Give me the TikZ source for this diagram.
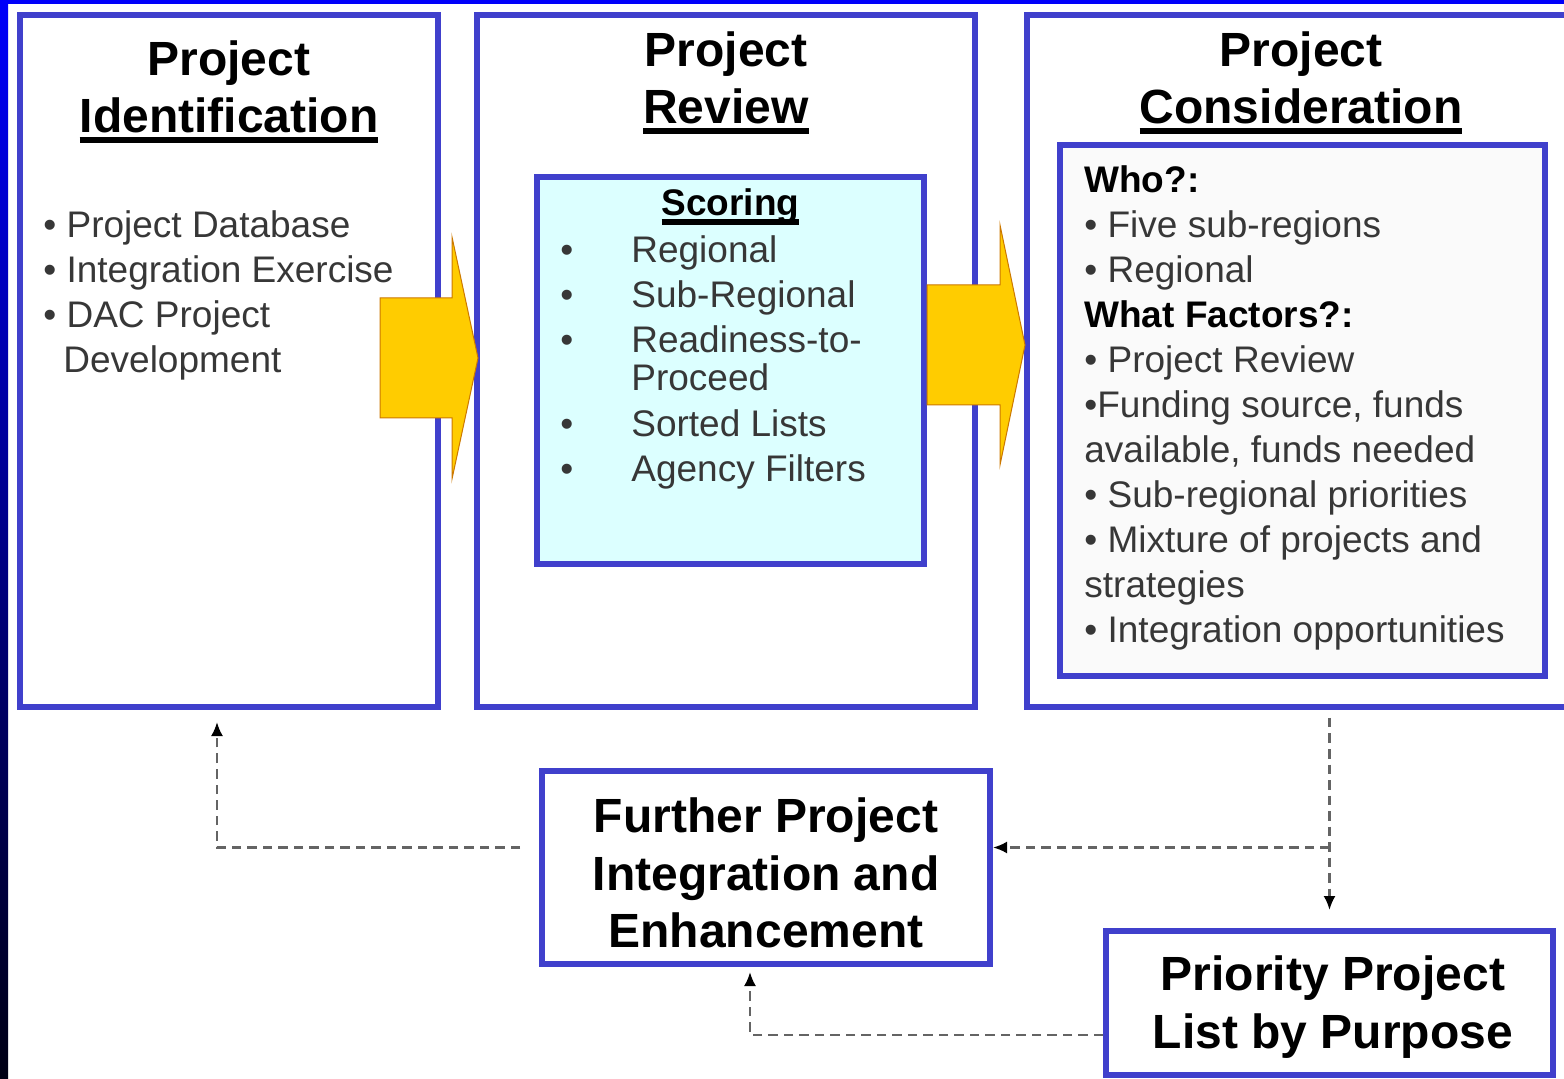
\documentclass[tikz,border=0pt]{standalone}
\usepackage{fontspec}
\setmainfont{Liberation Sans}
\usetikzlibrary{positioning, arrows.meta}

\definecolor{slideblue}{RGB}{0,0,250}
\definecolor{slidenavy}{RGB}{0,0,20}
\definecolor{stageblue}{RGB}{64,64,204}
\definecolor{scorecyan}{RGB}{220,255,255}
\definecolor{itemgray}{RGB}{55,55,55}
\definecolor{dashgray}{RGB}{100,100,100}
\definecolor{flowgold}{RGB}{255,204,0}
\definecolor{flowedge}{RGB}{204,120,0}

\newsavebox{\ulbox}
\newcommand{\headul}[1]{\sbox{\ulbox}{#1}\leavevmode\rlap{\raisebox{-5pt}{\rule{\wd\ulbox}{3pt}}}\usebox{\ulbox}}

\tikzstyle{stage} = [rectangle, draw=stageblue, line width=3pt, fill=white, inner sep=0pt]
\tikzstyle{heading} = [font=\fontsize{24}{28.75}\selectfont\bfseries, align=center, inner sep=0pt]
\tikzstyle{subhead} = [font=\fontsize{18.5}{22}\selectfont\bfseries, inner sep=0pt]
\tikzstyle{items} = [font=\fontsize{18.5}{22.5}\selectfont, text=itemgray, align=left, inner sep=0pt]
\tikzstyle{feedback} = [draw=dashgray, line width=1.2pt, dash pattern=on 4.75pt off 3pt, -{Latex[length=7pt, width=6pt, color=black]}]
\tikzstyle{flow} = [fill=flowgold, draw=flowedge, line width=0.5pt]

\begin{document}
\begin{tikzpicture}[x=0.5pt, y=-0.5pt]
        \useasboundingbox (0,0) rectangle (1564,1079);
        \fill[white] (0,0) rectangle (1564,1079);
        \fill[slideblue] (0,0) rectangle (1564,4);
        \shade[top color=slideblue, bottom color=slidenavy] (0,0) rectangle (8,1079);

        % the three stages
        \node[stage, minimum width=209pt, minimum height=346pt] (ident) at (229,361) {};
        \node[stage, minimum width=249pt, minimum height=346pt] (review) at (726,361) {};
        \node[stage, minimum width=274pt, minimum height=346pt] (consider) at (1301,361) {};

        \node[heading, below=14pt of ident.north] (identtitle) {Project\\\headul{Identification}};
        \node[heading, below=9.5pt of review.north] (reviewtitle) {Project\\\headul{Review}};
        \node[heading, below=9.5pt of consider.north] (considertitle) {Project\\\headul{Consideration}};

        \node[items, below right=99.25pt and 13pt of ident.north west] (identlist) {%
            \textbullet\ Project Database\\
            \textbullet\ Integration Exercise\\
            \textbullet\ DAC Project\\
            \hspace*{10pt}Development};

        \node[stage, fill=scorecyan, minimum width=193.5pt, minimum height=193.5pt] (scoring) at (730.5,370.5) {};
        \node[subhead, below=7pt of scoring.north] (scoringtitle) {\headul{Scoring}};
        \node[items, below right=30.75pt and 13pt of scoring.north west] (scoringlist) {%
            \makebox[35.5pt][l]{\textbullet}Regional\\
            \makebox[35.5pt][l]{\textbullet}Sub-Regional\\
            \makebox[35.5pt][l]{\textbullet}Readiness-to-\\[-3.5pt]
            \hspace*{35.5pt}Proceed\\[0.5pt]
            \makebox[35.5pt][l]{\textbullet}Sorted Lists\\
            \makebox[35.5pt][l]{\textbullet}Agency Filters};

        \node[stage, fill=black!2, minimum width=242.5pt, minimum height=265.5pt] (factors) at (1302.5,410.5) {};
        \node[items, below right=11.75pt and 13.5pt of factors.north west] (factorlist) {%
            \textcolor{black}{\bfseries Who?:}\\
            \textbullet\ Five sub-regions\\
            \textbullet\ Regional\\
            \textcolor{black}{\bfseries What Factors?:}\\
            \textbullet\ Project Review\\
            \textbullet Funding source, funds\\
            available, funds needed\\
            \textbullet\ Sub-regional priorities\\
            \textbullet\ Mixture of projects and\\
            strategies\\
            \textbullet\ Integration opportunities};

        % outcomes
        \node[stage, minimum width=224pt, minimum height=96.5pt] (further) at (766,867.5) {};
        \node[heading, below=14.8pt of further.north] (furthertext) {Further Project\\Integration and\\Enhancement};

        \node[stage, minimum width=223.5pt, minimum height=72pt] (priority) at (1329.5,1003) {};
        \node[heading, below=13.8pt of priority.north, xshift=1.75pt] (prioritytext) {Priority Project\\List by Purpose};

        % big flow arrows
        \draw[flow] (380,298) -- (452,298) -- (452,237) -- (478,358) -- (452,479) -- (452,418) -- (380,418) -- cycle;
        \draw[flow] (927,285) -- (1000,285) -- (1000,225) -- (1025,345) -- (1000,465) -- (1000,405) -- (927,405) -- cycle;

        % feedback loops
        \coordinate (fleft) at ([shift={(-9.5pt,10pt)}]further.west);
        \coordinate (identfoot) at ([xshift=-6pt]ident.south);
        \draw[feedback, shorten >=6pt] (fleft) -| (identfoot);

        \coordinate (fright) at ([yshift=10pt]further.east);
        \draw[feedback, shorten <=4pt, shorten >=9pt] (consider.south -| priority.north) -- (priority.north);
        \draw[feedback] (fright -| priority.north) -- (fright);

        \coordinate (pleft) at ([yshift=-16pt]priority.west);
        \coordinate (furtherfoot) at ([xshift=-8pt]further.south);
        \draw[feedback, shorten >=2.5pt] (pleft) -| (furtherfoot);
\end{tikzpicture}
\end{document}
